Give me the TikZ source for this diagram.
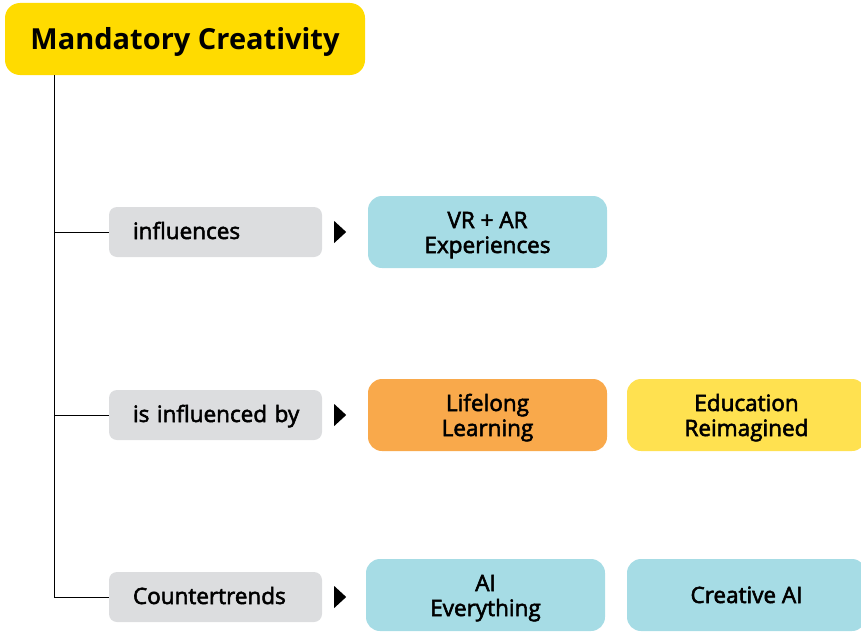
\documentclass[tikz,border=0pt]{standalone}
\usepackage{fontspec}
\setmainfont{Open Sans}
\newfontfamily\semibf{Open Sans}[FakeBold=2.5]
\definecolor{titley}{HTML}{FFDB00}
\definecolor{cblue}{HTML}{A6DCE5}
\definecolor{corange}{HTML}{F9A94B}
\definecolor{cyellow}{HTML}{FFE150}
\definecolor{cgray}{HTML}{DCDDDF}
\begin{document}
\begin{tikzpicture}[x=1pt,y=1pt,
  titlebox/.style={fill=titley,rounded corners=15pt,minimum width=360pt,minimum height=72pt,inner sep=0pt,text height=26pt,text depth=6pt,font=\fontsize{29}{32}\selectfont\bfseries},
  relbox/.style={fill=cgray,rounded corners=8pt,minimum width=213pt,minimum height=50pt,inner sep=0pt,text width=165pt,align=left,text height=18pt,text depth=4pt,font=\fontsize{22.5}{25}\selectfont\semibf},
  trendbox/.style={rounded corners=14pt,minimum width=239pt,minimum height=72pt,inner sep=0pt,align=center,text height=46pt,text depth=4pt,font=\fontsize{22.5}{25}\selectfont\semibf},
  onebox/.style={trendbox,text height=20pt,text depth=4pt},
  link/.style={line width=1pt,black},
  tri/.style={fill=black}
]
\useasboundingbox (0,0) rectangle (861,-634);
\clip (0,0) rectangle (861,-634);
\node[titlebox] (title) at (185,-39) {Mandatory Creativity};
\node[relbox] (r1) at (215.5,-232) {\mbox{influences}};
\node[relbox] (r2) at (215.5,-415) {\mbox{is influenced by}};
\node[relbox] (r3) at (215.5,-597) {\mbox{Countertrends}};
\node[trendbox,fill=cblue] (t1) at (487.5,-232) {VR + AR\\Experiences};
\node[trendbox,fill=corange] (t2) at (487.5,-415) {Lifelong\\Learning};
\node[trendbox,fill=cyellow] (t3) at (746.5,-415) {Education\\Reimagined};
\node[trendbox,fill=cblue] (t4) at (485.5,-595) {AI\\Everything};
\node[onebox,fill=cblue] (t5) at (746.5,-595) {Creative AI};
\coordinate (spine) at (54,0);
\draw[link] (spine |- title.south) |- (r3.west);
\draw[link] (spine |- r1.west) -- (r1.west);
\draw[link] (spine |- r2.west) -- (r2.west);
\foreach \r in {r1,r2,r3}{
  \fill[tri] ([xshift=12pt,yshift=11pt]\r.east) -- ([xshift=24pt]\r.east) -- ([xshift=12pt,yshift=-11pt]\r.east) -- cycle;
}
\end{tikzpicture}
\end{document}
